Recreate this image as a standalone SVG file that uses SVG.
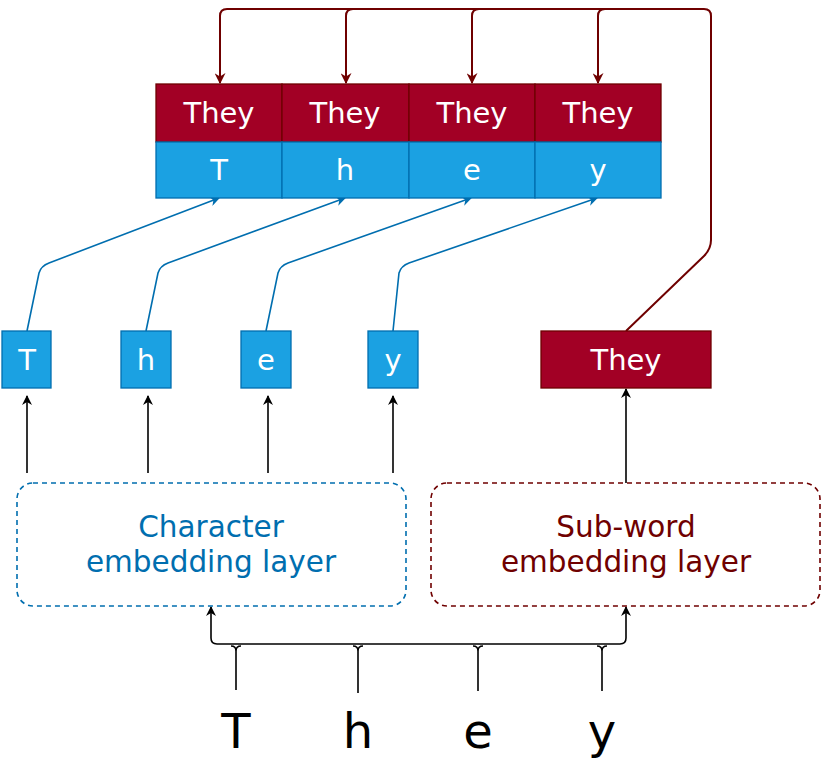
<svg xmlns="http://www.w3.org/2000/svg" width="822" height="765" viewBox="0 0 822 765">
<defs>
<style>
text{font-family:"DejaVu Sans","Liberation Sans",sans-serif;text-anchor:middle}
.red{fill:#A20025;stroke:#6F0000;stroke-width:1.3}
.blue{fill:#1BA1E2;stroke:#006EAF;stroke-width:1.3}
.wt{fill:#fff;font-size:29px}
.lt{font-size:29.5px}
.rl{fill:none;stroke:#6F0000;stroke-width:2}
.bl{fill:none;stroke:#006EAF;stroke-width:1.6}
.kl{fill:none;stroke:#000;stroke-width:1.6}
</style>
<marker id="ar" viewBox="0 0 10 10" refX="9" refY="5" markerWidth="11" markerHeight="11" orient="auto" markerUnits="userSpaceOnUse">
<path d="M0,0 L10,5 L0,10 L3,5 Z" fill="#6F0000"/>
</marker>
<marker id="ab" viewBox="0 0 10 10" refX="9" refY="5" markerWidth="10" markerHeight="10" orient="auto" markerUnits="userSpaceOnUse">
<path d="M0,0 L10,5 L0,10 L3,5 Z" fill="#006EAF"/>
</marker>
<marker id="ak" viewBox="0 0 10 10" refX="9" refY="5" markerWidth="10" markerHeight="10" orient="auto-start-reverse" markerUnits="userSpaceOnUse">
<path d="M0,0 L10,5 L0,10 L3,5 Z" fill="#000"/>
</marker>
</defs>
<g id="connectors">
<path class="rl" d="M626,331 L704,256 Q711,249 711,240 L711,16 Q711,9 704,9 L227,9 Q220,9 220,16 L220,83" marker-end="url(#ar)"/>
<path class="rl" d="M353,9 Q346,9 346,16 L346,83" marker-end="url(#ar)"/>
<path class="rl" d="M479,9 Q472,9 472,16 L472,83" marker-end="url(#ar)"/>
<path class="rl" d="M605,9 Q598,9 598,16 L598,83" marker-end="url(#ar)"/>
<path class="bl" d="M27,331 L39,273 Q41,266 49,263 L219,198" marker-end="url(#ab)"/>
<path class="bl" d="M146,331 L158,273 Q160,266 168,263 L345,198" marker-end="url(#ab)"/>
<path class="bl" d="M266,331 L278,273 Q280,266 288,263 L471,198" marker-end="url(#ab)"/>
<path class="bl" d="M393,331 L399,273 Q401,266 409,263 L597,198" marker-end="url(#ab)"/>
<path class="kl" d="M27,473 L27,396" marker-end="url(#ak)"/>
<path class="kl" d="M148,473 L148,396" marker-end="url(#ak)"/>
<path class="kl" d="M268,473 L268,396" marker-end="url(#ak)"/>
<path class="kl" d="M393,473 L393,396" marker-end="url(#ak)"/>
<path class="kl" d="M626,483 L626,389" marker-end="url(#ak)"/>
<path class="kl" stroke-width="2" d="M236,690 L236,651 Q236,646 231,646 M236,651 Q236,646 241,646"/>
<path class="kl" stroke-width="2" d="M358,693 L358,651 Q358,646 353,646 M358,651 Q358,646 363,646"/>
<path class="kl" stroke-width="2" d="M478,691 L478,651 Q478,646 473,646 M478,651 Q478,646 483,646"/>
<path class="kl" stroke-width="2" d="M602,691 L602,651 Q602,646 597,646 M602,651 Q602,646 607,646"/>
<path class="kl" stroke-width="2" d="M211,607 L211,638 Q211,644 217,644 L620,644 Q626,644 626,638 L626,607" marker-start="url(#ak)" marker-end="url(#ak)"/>
</g>
<g id="top-they">
<rect class="red" x="156" y="84" width="126" height="58"/>
<rect class="red" x="282" y="84" width="127" height="58"/>
<rect class="red" x="409" y="84" width="126" height="58"/>
<rect class="red" x="535" y="84" width="126" height="58"/>
<text class="wt" x="219" y="123">They</text>
<text class="wt" x="345" y="123">They</text>
<text class="wt" x="472" y="123">They</text>
<text class="wt" x="598" y="123">They</text>
</g>
<g id="top-chars">
<rect class="blue" x="156" y="142" width="126" height="56"/>
<rect class="blue" x="282" y="142" width="127" height="56"/>
<rect class="blue" x="409" y="142" width="126" height="56"/>
<rect class="blue" x="535" y="142" width="126" height="56"/>
<text class="wt" x="219" y="180">T</text>
<text class="wt" x="345" y="180">h</text>
<text class="wt" x="472" y="180">e</text>
<text class="wt" x="598" y="180">y</text>
</g>
<g id="char-T"><rect class="blue" x="2" y="331" width="49" height="57"/><text class="wt" x="27" y="370">T</text></g>
<g id="char-h"><rect class="blue" x="121" y="331" width="50" height="57"/><text class="wt" x="146" y="370">h</text></g>
<g id="char-e"><rect class="blue" x="241" y="331" width="50" height="57"/><text class="wt" x="266" y="370">e</text></g>
<g id="char-y"><rect class="blue" x="368" y="331" width="50" height="57"/><text class="wt" x="393" y="370">y</text></g>
<g id="word-they"><rect class="red" x="541" y="331" width="170" height="57"/><text class="wt" x="626" y="370">They</text></g>
<g id="char-layer">
<rect x="17" y="483" width="389" height="123" rx="16" fill="#fff" stroke="#006EAF" stroke-width="1.6" stroke-dasharray="5,4"/>
<text class="lt" x="211" y="537" fill="#006EAF">Character</text>
<text class="lt" x="211" y="572" fill="#006EAF">embedding layer</text>
</g>
<g id="subword-layer">
<rect x="431" y="483" width="389" height="123" rx="16" fill="#fff" stroke="#6F0000" stroke-width="1.6" stroke-dasharray="5,4"/>
<text class="lt" x="626" y="537" fill="#6F0000">Sub-word</text>
<text class="lt" x="626" y="572" fill="#6F0000">embedding layer</text>
</g>
<g id="input">
<text x="236" y="748" font-size="48" fill="#000">T</text>
<text x="358" y="748" font-size="48" fill="#000">h</text>
<text x="478" y="748" font-size="48" fill="#000">e</text>
<text x="602" y="748" font-size="48" fill="#000">y</text>
</g>
</svg>
